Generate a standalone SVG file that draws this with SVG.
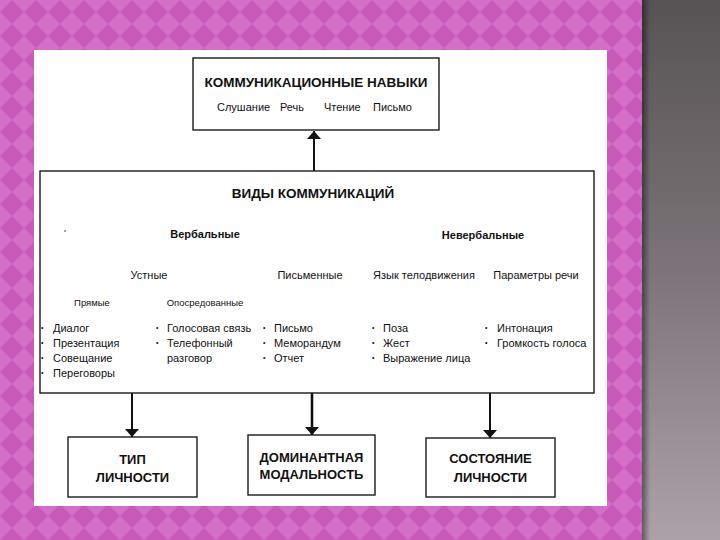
<svg xmlns="http://www.w3.org/2000/svg" width="720" height="540" viewBox="0 0 720 540">
<defs>
<pattern id="pink" width="24" height="24" patternUnits="userSpaceOnUse">
<rect width="24" height="24" fill="#d46fc8"/>
<polygon points="12,0 24,12 12,24 0,12" fill="#c95ab9"/>
</pattern>
<linearGradient id="grayv" x1="0" y1="0" x2="0" y2="1">
<stop offset="0" stop-color="#575354"/>
<stop offset="0.5" stop-color="#7c7478"/>
<stop offset="1" stop-color="#aca1a8"/>
</linearGradient>
<linearGradient id="shade" x1="0" y1="0" x2="1" y2="0">
<stop offset="0" stop-color="#000" stop-opacity="0.45"/>
<stop offset="1" stop-color="#000" stop-opacity="0"/>
</linearGradient>
<marker id="ah" viewBox="0 0 8 14" refX="8" refY="7" markerWidth="8" markerHeight="14" markerUnits="userSpaceOnUse" orient="auto">
<path d="M0,0 L8,7 L0,14 Z" fill="#111"/>
</marker>
</defs>
<style>
.box{fill:#fff;stroke:#1a1a1a;stroke-width:1.4}
.conn{stroke:#111;stroke-width:2;fill:none}
.t{font-family:"Liberation Sans",Arial,sans-serif;fill:#111}
.h{font-size:13.5px;font-weight:bold}
.b{font-size:13px;font-weight:bold;text-anchor:middle}
.s{font-size:11px}
.sb{font-size:11px;font-weight:bold}
.xs{font-size:9.5px}
.m{text-anchor:middle}
.bl{font-size:7px}
</style>
<rect width="642" height="540" fill="url(#pink)"/>
<rect x="642" width="78" height="540" fill="url(#grayv)"/>
<rect x="642" width="8" height="540" fill="url(#shade)"/>
<rect x="34" y="50" width="573" height="456" fill="#fff"/>

<g id="connectors">
<line class="conn" x1="314" y1="171" x2="314" y2="131" marker-end="url(#ah)"/>
<line class="conn" x1="132" y1="393" x2="132" y2="437" marker-end="url(#ah)"/>
<line class="conn" x1="312" y1="393" x2="312" y2="435" marker-end="url(#ah)" style="stroke-width:2.6"/>
<line class="conn" x1="490" y1="393" x2="490" y2="438" marker-end="url(#ah)"/>
</g>

<g id="skills">
<rect class="box" x="193" y="58" width="246" height="72"/>
<text class="t h m" x="316" y="87">КОММУНИКАЦИОННЫЕ НАВЫКИ</text>
<text class="t s" x="217" y="111">Слушание</text>
<text class="t s" x="280" y="111">Речь</text>
<text class="t s" x="324" y="111">Чтение</text>
<text class="t s" x="373" y="111">Письмо</text>
</g>

<g id="types">
<rect class="box" x="40" y="171" width="554" height="222"/>
<text class="t h m" x="313" y="198">ВИДЫ КОММУНИКАЦИЙ</text>
<circle cx="65" cy="231" r="0.8" fill="#333"/>
<text class="t sb m" x="205" y="238">Вербальные</text>
<text class="t sb m" x="483" y="239">Невербальные</text>
<text class="t s m" x="149" y="279">Устные</text>
<text class="t s m" x="310" y="279">Письменные</text>
<text class="t s m" x="424" y="279">Язык телодвижения</text>
<text class="t s m" x="536" y="279">Параметры речи</text>
<text class="t xs m" x="92" y="306">Прямые</text>
<text class="t xs m" x="205" y="306">Опосредованные</text>
<g class="t bl">
<text x="41" y="330">•</text>
<text x="41" y="345">•</text>
<text x="41" y="360">•</text>
<text x="41" y="375">•</text>
<text x="156" y="330">•</text>
<text x="156" y="345">•</text>
<text x="263" y="330">•</text>
<text x="263" y="345">•</text>
<text x="263" y="360">•</text>
<text x="372" y="330">•</text>
<text x="372" y="345">•</text>
<text x="372" y="360">•</text>
<text x="485" y="330">•</text>
<text x="485" y="345">•</text>
</g>
<g class="t s">
<text x="53" y="332">Диалог</text>
<text x="53" y="347">Презентация</text>
<text x="53" y="362">Совещание</text>
<text x="53" y="377">Переговоры</text>
<text x="167" y="332">Голосовая связь</text>
<text x="167" y="347">Телефонный</text>
<text x="167" y="362">разговор</text>
<text x="274" y="332">Письмо</text>
<text x="274" y="347">Меморандум</text>
<text x="274" y="362">Отчет</text>
<text x="383" y="332">Поза</text>
<text x="383" y="347">Жест</text>
<text x="383" y="362">Выражение лица</text>
<text x="497" y="332">Интонация</text>
<text x="497" y="347">Громкость голоса</text>
</g>
</g>

<g id="personality-type">
<rect class="box" x="68" y="437" width="129" height="60"/>
<text class="t b" x="132.5" y="464">ТИП</text>
<text class="t b" x="132.5" y="482">ЛИЧНОСТИ</text>
</g>

<g id="dominant-modality">
<rect class="box" x="248" y="435" width="127" height="60"/>
<text class="t b" x="311.5" y="462">ДОМИНАНТНАЯ</text>
<text class="t b" x="311.5" y="479">МОДАЛЬНОСТЬ</text>
</g>

<g id="personality-state">
<rect class="box" x="426" y="438" width="129" height="59"/>
<text class="t b" x="490.5" y="463">СОСТОЯНИЕ</text>
<text class="t b" x="490.5" y="482">ЛИЧНОСТИ</text>
</g>
</svg>
